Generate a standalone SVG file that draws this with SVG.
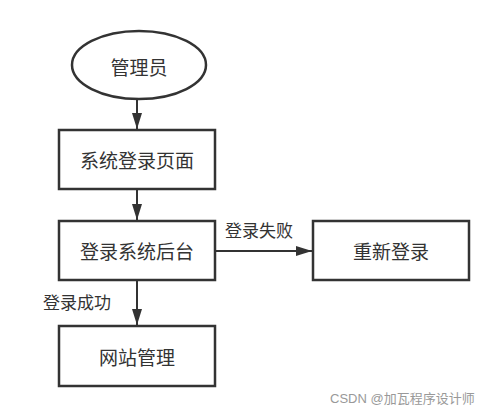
<svg xmlns="http://www.w3.org/2000/svg" width="500" height="416" viewBox="0 0 500 416">
<style>
.shape{fill:#fff;stroke:#333;stroke-width:2.5}
.t{font-family:"Noto Sans CJK SC","Liberation Sans",sans-serif;font-size:19px;fill:#333;text-anchor:middle;dominant-baseline:central}
.lbl{font-family:"Noto Sans CJK SC","Liberation Sans",sans-serif;font-size:17px;fill:#333}
.edge{stroke:#333;stroke-width:2;fill:none}
</style>
<defs>
<marker id="ah" viewBox="0 0 16 10" refX="16" refY="5" markerWidth="16" markerHeight="10" markerUnits="userSpaceOnUse" orient="auto">
<path d="M0,0 L16,5 L0,10 Z" fill="#333"/>
</marker>
</defs>
<rect width="500" height="416" fill="#fff"/>
<g id="connectors">
<line class="edge" x1="137" y1="99" x2="137" y2="129" marker-end="url(#ah)"/>
<line class="edge" x1="137" y1="190" x2="137" y2="220" marker-end="url(#ah)"/>
<line class="edge" x1="215" y1="251" x2="312" y2="251" marker-end="url(#ah)"/>
<line class="edge" x1="137" y1="281" x2="137" y2="325" marker-end="url(#ah)"/>
<text class="lbl" x="225" y="237">登录失败</text>
<text class="lbl" x="43" y="309">登录成功</text>
</g>
<g id="n-admin">
<ellipse class="shape" cx="139" cy="65" rx="67" ry="34"/>
<text class="t" x="139" y="66">管理员</text>
</g>
<g id="n-login-page">
<rect class="shape" x="59" y="130" width="156" height="59"/>
<text class="t" x="137" y="159">系统登录页面</text>
</g>
<g id="n-backend">
<rect class="shape" x="59" y="221" width="156" height="59"/>
<text class="t" x="137" y="250">登录系统后台</text>
</g>
<g id="n-relogin">
<rect class="shape" x="313" y="221" width="156" height="59"/>
<text class="t" x="391" y="250">重新登录</text>
</g>
<g id="n-site">
<rect class="shape" x="59" y="326" width="156" height="60"/>
<text class="t" x="137" y="356">网站管理</text>
</g>
<text x="330" y="403" style="font-family:'Liberation Sans','Noto Sans CJK SC',sans-serif;font-size:13px;fill:#999">CSDN @加瓦程序设计师</text>
</svg>
